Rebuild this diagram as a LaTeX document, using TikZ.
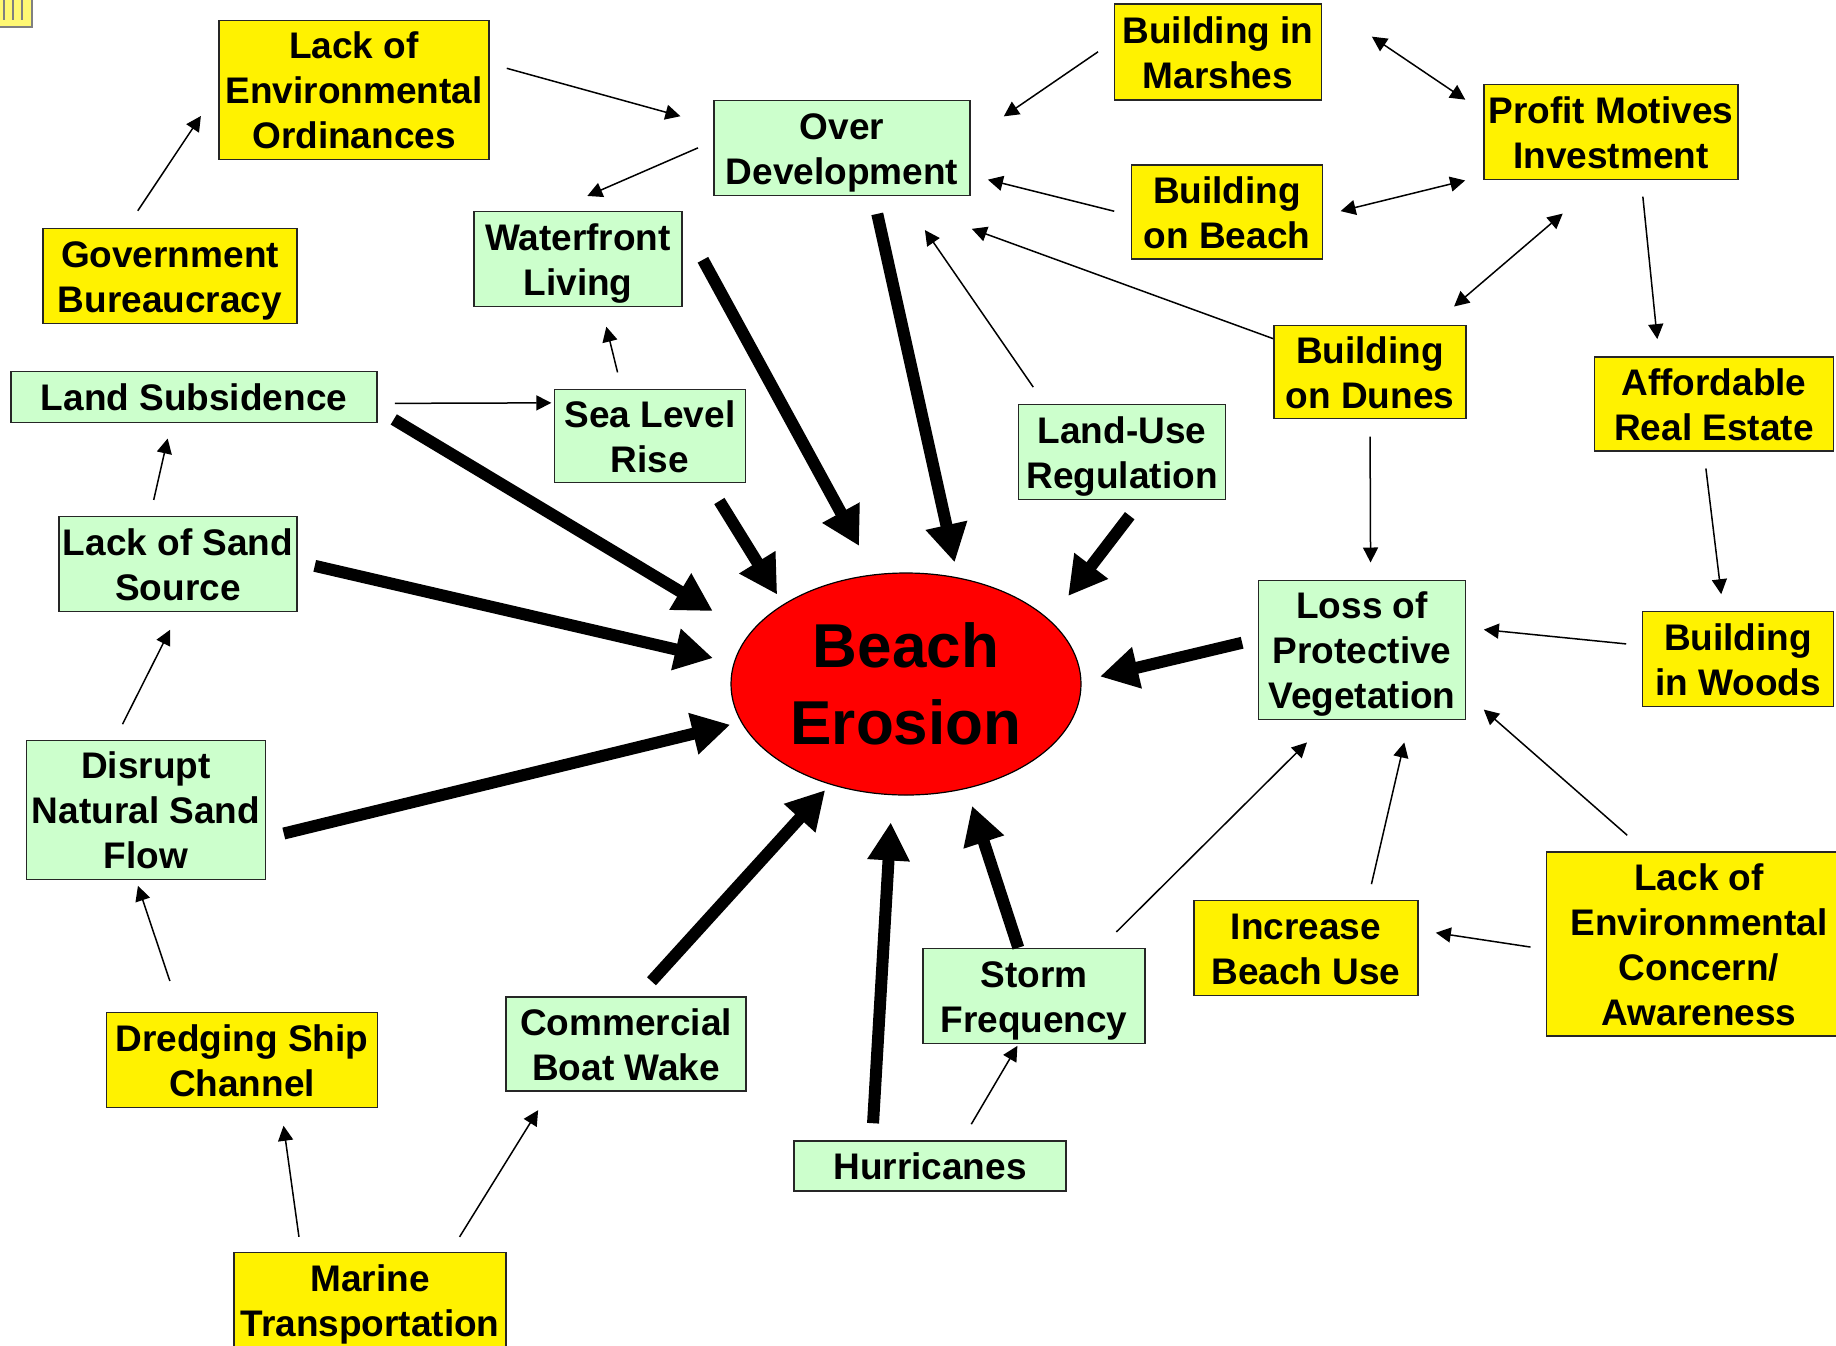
\documentclass[tikz,border=0pt]{standalone}
\usepackage{fontspec}
\setmainfont{Liberation Sans}
\usetikzlibrary{arrows.meta,shapes.geometric}
\newcommand\pstrut{\rule[-4.3pt]{0pt}{22.5pt}}

\begin{document}
\begin{tikzpicture}[x=0.5pt,y=-0.5pt,
    box/.style={draw=black!85,line width=0.8pt,inner sep=0pt,align=center,
      font=\bfseries\fontsize{18.5}{22.5}\selectfont},
    ybox/.style={box,fill=yellow},
    gbox/.style={box,fill=green!20},
    link/.style={line width=0.75pt,-{Triangle[length=7.5pt,width=7.5pt]}},
    twin/.style={line width=0.75pt,{Triangle[length=7.5pt,width=7.5pt]}-{Triangle[length=7.5pt,width=7.5pt]}},
    push/.style={line width=6pt,-{Triangle[length=19pt,width=20pt]}}]
  \path[use as bounding box,fill=white] (0,0) rectangle (1836,1345);
  \draw[gray,fill=yellow!55,line width=1pt] (-5,-5) rectangle (32,27);
  \foreach \i in {4,13,22} \draw[gray,line width=1.3pt] (\i,-5) -- (\i,20);

  \foreach \n/\x/\y/\w/\h/\txt in {lackord/354/90/135/69.5/{Lack of\\Environmental\\Ordinances},
      govbur/170/276/127/47.5/{Government\\Bureaucracy},
      marsh/1218/52/103.5/48/{Building in\\Marshes},
      profit/1611/132/127/47.5/{Profit Motives\\Investment},
      beach/1227/212/95.5/47/{Building\\on Beach},
      dunes/1370/372/96/46.5/{Building\\on Dunes},
      afford/1714/404/119.5/47/{Affordable\\Real Estate},
      woods/1738/659/95.5/47.5/{Building\\in Woods},
      incuse/1306/948/112/47.5/{Increase\\Beach Use},
      concern/1699/944/152.5/92/{Lack of\\Environmental\\Concern/\\Awareness},
      dredge/242/1060/135.5/47.5/{Dredging Ship\\Channel},
      marine/370/1300/136/47.5/{Marine\\Transportation}}
    \node[ybox,minimum width=\w pt,minimum height=\h pt] (\n) at (\x,\y) {\pstrut\txt\pstrut};

  \foreach \n/\x/\y/\w/\h/\txt in {overdev/842/148/128/47.5/{Over\\Development},
      water/578/259/104/47.5/{Waterfront\\Living},
      landsub/194/397/183/25.5/{Land Subsidence},
      sealevel/650/436/95.5/46.5/{Sea Level\\Rise},
      landuse/1122/452/103.5/47.5/{Land-Use\\Regulation},
      sand/178/564/119/47.5/{Lack of Sand\\Source},
      lossveg/1362/650/103.5/69.5/{Loss of\\Protective\\Vegetation},
      disrupt/146/810/119.5/69.5/{Disrupt\\Natural Sand\\Flow},
      storm/1034/996/111/47.5/{Storm\\Frequency},
      boat/626/1044/120/47/{Commercial\\Boat Wake},
      hurr/930/1166/136/25/{Hurricanes}}
    \node[gbox,minimum width=\w pt,minimum height=\h pt] (\n) at (\x,\y) {\pstrut\txt\pstrut};

  \node[ellipse,draw,line width=0.6pt,fill=red,minimum width=175pt,minimum height=111pt,
    inner sep=0pt,align=center,font=\bfseries\fontsize{31}{38.5}\selectfont] (be) at (906,684) {Beach\\Erosion};

  \foreach \na/\aa/\nb/\ab/\ga/\gb in {govbur/132.7/lackord/180/10.2/15.6,
      lackord/11.1/overdev/170.4/8.8/17, overdev/177.2/water/117/8.3/18.5,
      marsh/174/overdev/4.3/9.5/20, beach/182.7/overdev/-12.2/8.5/8.8,
      profit/-58.1/afford/139.1/8.2/8.6, dunes/161.6/overdev/-50.2/0/47.5,
      landuse/148.1/overdev/-39.8/10.1/20.5, dunes/-90/lossveg/83.4/8.6/8.6,
      afford/-102/woods/107.6/8.4/8.3, woods/172.2/lossveg/12.5/7.8/8.8,
      concern/120.3/lossveg/-23.2/12.1/11.6, incuse/38/lossveg/-56.4/8/11.4,
      storm/36.5/lossveg/-115.9/11.2/15.7, concern/182.4/incuse/9.4/7.7/8.6,
      hurr/39.3/storm/-108/9.3/0.9, landsub/-2.3/sealevel/161.6/8.5/1.2,
      sealevel/121.2/water/-64.7/8.4/10, sand/120.1/landsub/-131.6/8.1/7.8,
      disrupt/114.5/sand/-89/8.7/9.8, dredge/142.1/disrupt/-98.1/16.2/2.9,
      marine/145.6/dredge/-51.3/7.5/8.8, marine/31.1/boat/-148.5/8.7/10.8}
    \draw[link,shorten <=\ga pt,shorten >=\gb pt] (\na.\aa) -- (\nb.\ab);

  \foreach \na/\aa/\nb/\ab/\ga/\gb in {marsh/north east/profit/171.1/29.9/10.8,
      beach/-2.6/profit/-161/8.9/9.3, dunes/37.9/profit/-101.9/14/25.6}
    \draw[twin,shorten <=\ga pt,shorten >=\gb pt] (\na.\aa) -- (\nb.\ab);

  \foreach \na/\aa/\ab/\ga/\gb in {landsub/-4.8/162.2/9.3/21.5, sand/1.4/173.7/8.7/10.6,
      disrupt/-13.8/-167.6/9/5.5, water/19.1/106.9/21/16.1, sealevel/-39.8/147/10.4/5.7,
      overdev/-57.6/64.2/9/7.7, landuse/-68.4/24.1/9.7/15.1, lossveg/174.8/1.6/8/9.5,
      boat/76.3/-127.3/10.1/3.7, hurr/156.3/-97.5/8.5/13.6, storm/108.6/-60.9/0/9}
    \draw[push,shorten <=\ga pt,shorten >=\gb pt] (\na.\aa) -- (be.\ab);
\end{tikzpicture}
\end{document}
